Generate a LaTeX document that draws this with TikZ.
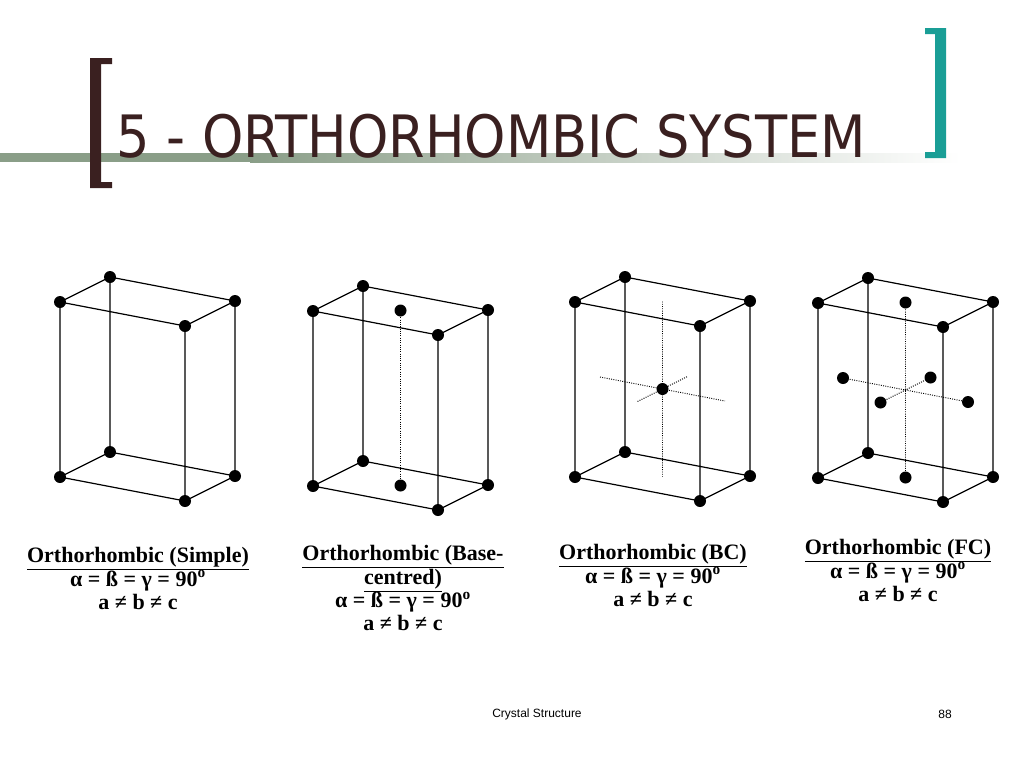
\documentclass[tikz,border=0pt]{standalone}
\usetikzlibrary{calc}
\usepackage{fontspec}
\setmainfont{Liberation Serif}
\newfontfamily\titlefont{DejaVu Sans Condensed}
\newfontfamily\footfont{Liberation Sans}
\definecolor{bargreen}{RGB}{138,158,136}
\definecolor{brk}{RGB}{58,32,32}
\definecolor{teal2}{RGB}{26,158,150}
\newcommand\cubeframe[2]{%
  \coordinate (#2a) at (#1);
  \coordinate (#2b) at ($(#1)+(125,24)$);
  \coordinate (#2c) at ($(#1)+(175,-1)$);
  \coordinate (#2d) at ($(#1)+(50,-25)$);
  \coordinate (#2e) at ($(#1)+(0,175)$);
  \coordinate (#2f) at ($(#1)+(125,199)$);
  \coordinate (#2g) at ($(#1)+(175,174)$);
  \coordinate (#2h) at ($(#1)+(50,150)$);
  \draw[edge] (#2a)--(#2b)--(#2c)--(#2d)--cycle (#2e)--(#2f)--(#2g)--(#2h)--cycle
    (#2a)--(#2e) (#2b)--(#2f) (#2c)--(#2g) (#2d)--(#2h);
  \foreach \p in {a,b,c,d,e,f,g,h}{\node[atom] at (#2\p) {};}
  \coordinate (#2T) at ($(#1)+(87.5,-0.5)$);
  \coordinate (#2B) at ($(#1)+(87.5,174.5)$);
  \coordinate (#2L) at ($(#1)+(25,75)$);
  \coordinate (#2R) at ($(#1)+(150,99)$);
  \coordinate (#2F) at ($(#1)+(62.5,99.5)$);
  \coordinate (#2K) at ($(#1)+(112.5,74.5)$);
  \coordinate (#2C) at ($(#1)+(87.5,87)$);
}
\newcommand\angs{α = ß = γ = 90\textsuperscript{o}}
\newcommand\neqs{a ≠ b ≠ c}
\begin{document}
\begin{tikzpicture}[x=0.75pt,y=-0.75pt,
  edge/.style={line width=0.9pt},
  hid/.style={densely dotted,line width=0.7pt},
  atom/.style={circle,fill=black,inner sep=0pt,minimum size=9pt},
  lab/.style={font=\bfseries\fontsize{16.5}{17.5}\selectfont,align=center,anchor=north},
  foot/.style={font=\footfont\fontsize{9}{10}\selectfont}]
\useasboundingbox (0,0) rectangle (1024,768);
\fill[white] (0,0) rectangle (1024,768);
\shade[left color=bargreen,right color=white] (250,153) rectangle (960,162);
\fill[bargreen] (0,153) rectangle (250,162);
\fill[brk] (90,58) rectangle (101,188) (90,58) rectangle (112,64) (90,182) rectangle (112,188);
\fill[teal2] (935,28) rectangle (946,158) (925,28) rectangle (946,34) (925,152) rectangle (946,158);
\node[anchor=west,inner sep=0pt,text=brk] (title) at (116,136) {\resizebox{562pt}{!}{\titlefont 5 - ORTHORHOMBIC SYSTEM}};
\cubeframe{60,302}{p}
\cubeframe{313,311}{q}
\draw[hid] (qT)--(qB);
\node[atom] at (qT) {}; \node[atom] at (qB) {};
\cubeframe{575,302}{r}
\draw[hid] (rT)--(rB) (rL)--(rR) (rF)--(rK);
\node[atom] at (rC) {};
\cubeframe{818,303}{s}
\draw[hid] (sT)--(sB) (sL)--(sR) (sF)--(sK);
\foreach \p in {T,B,L,R,F,K}{\node[atom] at (s\p) {};}
\node[lab] (l1) at (138,543) {\underline{Orthorhombic (Simple)}\\\angs\\\neqs};
\node[lab] (l2) at (403,541) {\underline{Orthorhombic (Base-}\\\underline{centred)}\\\angs\\\neqs};
\node[lab] (l3) at (653,540) {\underline{Orthorhombic (BC)}\\\angs\\\neqs};
\node[lab] (l4) at (898,535) {\underline{Orthorhombic (FC)}\\\angs\\\neqs};
\node[foot] (f1) at (537,714) {Crystal Structure};
\node[foot] (f2) at (945,714) {88};
\end{tikzpicture}
\end{document}
